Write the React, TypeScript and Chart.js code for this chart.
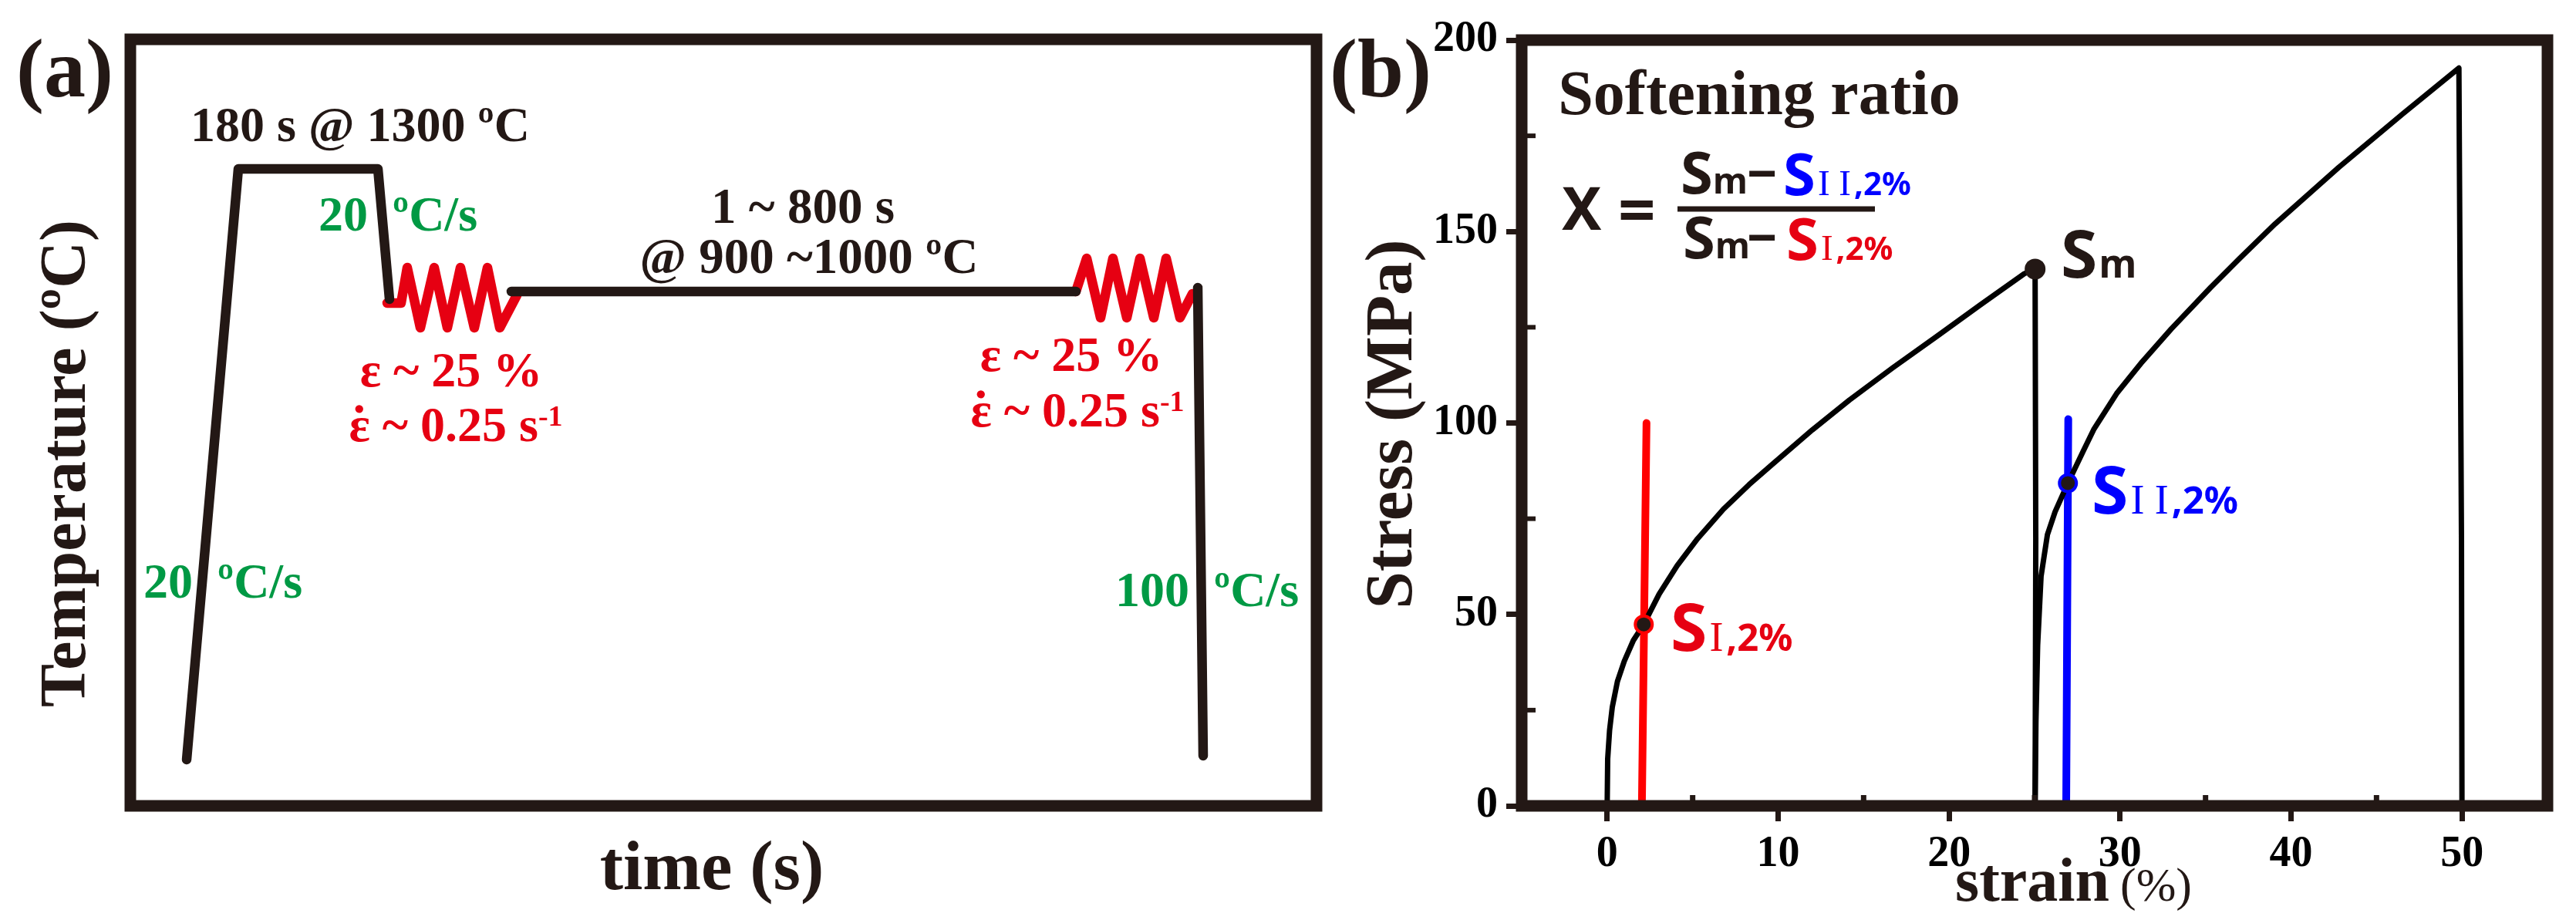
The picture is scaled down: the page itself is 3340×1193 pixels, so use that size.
import { useEffect, useRef } from 'react';
import { Chart, registerables } from 'chart.js';

Chart.register(...registerables);

const INK = '#231815';
const RED = '#e60012';
const GREEN = '#009944';
const BLUE = '#0000ff';

// panel (a): schedule, time and temperature in arbitrary units
const rampTime = [73, 140, 321, 336];
const rampTemp = [60, 826, 826, 657];
const holdTime = [494, 1226];
const holdTemp = [667, 667];
const quenchTime = [1384, 1391];
const quenchTemp = [672, 65];
const pass1Time = [333, 351, 359, 376, 394, 411, 428, 446, 463, 479, 501];
const pass1Temp = [652, 652, 698, 620, 698, 620, 698, 620, 698, 620, 662];
const pass2Time = [1226, 1240, 1258, 1274, 1292, 1309, 1327, 1343, 1361, 1377];
const pass2Temp = [667, 710, 633, 710, 633, 710, 633, 710, 633, 664];

// panel (b): stress-strain
const firstStrain = [0, 0.03, 0.14, 0.3, 0.6, 1, 1.53, 2.14, 3.04, 4.09, 5.29, 6.8, 8.3, 9.66, 12, 14.17, 16.7, 19.3, 21.84, 24.4, 25.03, 25.07, 25.03];
const firstStress = [0, 12.3, 19.7, 25.8, 32.5, 37.8, 43.2, 47.4, 55.3, 62.7, 69.8, 77.5, 83.9, 89.2, 98.2, 106, 114.4, 122.7, 130.9, 139, 140.2, 70, 0];
const secondStrain = [25.03, 25.08, 25.18, 25.38, 25.75, 26.2, 26.95, 27.84, 28.46, 29.8, 31.3, 33, 35.3, 37, 39.07, 42.8, 46.55, 49.82, 49.97, 50];
const secondStress = [0, 22, 42, 60, 70.8, 76.8, 84.3, 92.6, 98.3, 107.7, 116, 124.6, 135.4, 143, 152, 166.8, 180.8, 192.7, 70, 0];
const redStrain = [2.03, 2.3];
const redStress = [0, 100];
const blueStrain = [26.85, 26.97];
const blueStress = [0, 101];
const markStrain = [2.14, 25.03, 26.95];
const markStress = [47.4, 140.2, 84.3];

const strainTicks = [0, 10, 20, 30, 40, 50];
const strainMinor = [5, 15, 25, 35, 45];
const stressMinor = [25, 75, 125, 175];

const pts = (xs: number[], ys: number[]) => xs.map((x, i) => ({ x, y: ys[i] }));

const line = (xs: number[], ys: number[], color: string, width: number) => ({
  data: pts(xs, ys),
  showLine: true,
  borderColor: color,
  borderWidth: width,
  borderCapStyle: 'round',
  borderJoinStyle: 'round',
  pointRadius: 0,
  tension: 0,
});

const TIMES = '"Liberation Serif"';
const SANS = '"Noto Sans"';
const tb = (size: number) => `bold ${size}px ${TIMES}`;
const tr = (size: number) => `${size}px ${TIMES}`;
const sb = (size: number) => `bold ${size}px ${SANS}`;

type Run = { t: string; font: string; color?: string; dx?: number; dy?: number };
type Label = { x: number; y: number; rot?: number; center?: boolean; runs: Run[] };

const txt = (x: number, y: number, t: string, font: string, color = INK, center = true): Label => ({
  x, y, center, runs: [{ t, font, color }],
});

const rate = (x: number, y: number): Label => ({
  x, y, center: true,
  runs: [
    { t: 'ε', font: tb(64), color: RED },
    { t: '.', font: tb(64), color: RED, dx: -22, dy: -37 },
    { t: ' ~ 0.25 s', font: tb(64), color: RED, dx: 6 },
    { t: '-1', font: tb(38), color: RED, dy: -20 },
  ],
});

const panelALabels: Label[] = [
  txt(84, 125, '(a)', tb(108)),
  txt(467, 183, '180 s @ 1300 ºC', tb(64)),
  txt(413, 299, '20  ºC/s', tb(64), GREEN, false),
  txt(186, 775, '20  ºC/s', tb(64), GREEN, false),
  txt(1446, 786, '100  ºC/s', tb(64), GREEN, false),
  txt(1041, 289, '1 ~ 800 s', tb(65)),
  txt(1049, 354, '@ 900 ~1000 ºC', tb(65)),
  txt(585, 501, 'ε ~ 25 %', tb(64), RED),
  rate(591, 572),
  txt(1389, 481, 'ε ~ 25 %', tb(64), RED),
  rate(1397, 553),
  { x: 110, y: 601, rot: -90, center: true, runs: [{ t: 'Temperature (ºC)', font: tb(84), color: INK }] },
  txt(923, 1153, 'time (s)', tb(91)),
];

const sub = (x: number, y: number, roman: string, head: number, small: number, color: string): Label => ({
  x, y,
  runs: [
    { t: 'S', font: sb(head), color },
    { t: roman, font: tr(small), color, dx: 3 },
    { t: ',2%', font: sb(small - 5), color, dx: 4 },
  ],
});

const panelBLabels: Label[] = [
  txt(1790, 125, '(b)', tb(108)),
  txt(2281, 148, 'Softening ratio', tb(82)),
  txt(2025, 298, 'X', sb(77), INK, false),
  txt(2098, 302, '=', sb(85), INK, false),
  { x: 2179, y: 251, runs: [{ t: 'S', font: sb(76), color: INK }, { t: 'm', font: sb(46), color: INK }] },
  txt(2265, 249, '−', sb(68), INK, false),
  sub(2312, 253, 'I I', 76, 47, BLUE),
  { x: 2182, y: 335, runs: [{ t: 'S', font: sb(76), color: INK }, { t: 'm', font: sb(46), color: INK }] },
  txt(2265, 332, '−', sb(68), INK, false),
  sub(2316, 337, 'I', 76, 47, RED),
  { x: 2672, y: 360, runs: [{ t: 'S', font: sb(86), color: INK }, { t: 'm', font: sb(50), color: INK, dx: 2 }] },
  sub(2712, 666, 'I I', 86, 54, BLUE),
  sub(2166, 844, 'I', 86, 54, RED),
  { x: 1830, y: 550, rot: -90, center: true, runs: [{ t: 'Stress (MPa)', font: tb(87), color: INK }] },
  {
    x: 2535, y: 1168,
    runs: [{ t: 'strain', font: tb(80), color: INK }, { t: '(%)', font: tr(62), color: INK, dx: 14 }],
  },
];

const drawLabels = (ctx: CanvasRenderingContext2D, labels: Label[]) => {
  labels.forEach((l) => {
    ctx.save();
    ctx.translate(l.x, l.y);
    if (l.rot) ctx.rotate((l.rot * Math.PI) / 180);
    ctx.textBaseline = 'alphabetic';
    ctx.textAlign = 'left';
    const width = l.runs.reduce((w, r) => {
      ctx.font = r.font;
      return w + ctx.measureText(r.t).width + (r.dx || 0);
    }, 0);
    let pen = l.center ? -width / 2 : 0;
    l.runs.forEach((r) => {
      ctx.font = r.font;
      ctx.fillStyle = r.color || INK;
      pen += r.dx || 0;
      ctx.fillText(r.t, pen, r.dy || 0);
      pen += ctx.measureText(r.t).width;
    });
    ctx.restore();
  });
};

// box around the plot, inward minor ticks and the formula labels
const framePlugin = {
  id: 'frame',
  afterDatasetsDraw(chart: any, _args: any, opts: any) {
    const { ctx, chartArea: a, scales } = chart;
    ctx.save();
    ctx.strokeStyle = INK;
    (opts.minorX || []).forEach((v: number) => {
      const px = scales.x.getPixelForValue(v);
      ctx.lineWidth = 7;
      ctx.beginPath();
      ctx.moveTo(px, a.bottom);
      ctx.lineTo(px, a.bottom - 14);
      ctx.stroke();
    });
    (opts.minorY || []).forEach((v: number) => {
      const py = scales.y.getPixelForValue(v);
      ctx.lineWidth = 6;
      ctx.beginPath();
      ctx.moveTo(a.left, py);
      ctx.lineTo(a.left + 18, py);
      ctx.stroke();
    });
    ctx.lineWidth = 15;
    ctx.lineJoin = 'miter';
    ctx.strokeRect(a.left, a.top, a.right - a.left, a.bottom - a.top);
    if (opts.fractions) {
      ctx.lineWidth = 7;
      ctx.beginPath();
      ctx.moveTo(2175, 271);
      ctx.lineTo(2431, 271);
      ctx.stroke();
    }
    ctx.restore();
    drawLabels(ctx, opts.labels || []);
  },
};

const fontTicks = { family: TIMES, size: 56, weight: 'bold' as const };

const PanelA = () => {
  const ref = useRef<HTMLCanvasElement | null>(null);
  useEffect(() => {
    if (!ref.current) return;
    const chart = new Chart(ref.current, {
      type: 'scatter',
      plugins: [framePlugin],
      data: {
        datasets: [
          line(rampTime, rampTemp, INK, 12.5),
          line(holdTime, holdTemp, INK, 12.5),
          line(quenchTime, quenchTemp, INK, 12.5),
          line(pass1Time, pass1Temp, RED, 12.5),
          line(pass2Time, pass2Temp, RED, 12.5),
        ] as any,
      },
      options: {
        animation: false,
        responsive: false,
        devicePixelRatio: 1,
        layout: { padding: { left: 169, right: 1633, top: 51, bottom: 148 } },
        scales: {
          x: { type: 'linear', display: false, min: 0, max: 1538 },
          y: { type: 'linear', display: false, min: 0, max: 994 },
        },
        plugins: {
          legend: { display: false },
          tooltip: { enabled: false },
          frame: { labels: panelALabels },
        } as any,
      },
    });
    return () => chart.destroy();
  }, []);
  return <canvas ref={ref} width={3340} height={1193} style={{ position: 'absolute', left: 0, top: 0 }} />;
};

const PanelB = () => {
  const ref = useRef<HTMLCanvasElement | null>(null);
  useEffect(() => {
    if (!ref.current) return;
    const chart = new Chart(ref.current, {
      type: 'scatter',
      plugins: [framePlugin],
      data: {
        datasets: [
          {
            data: pts(markStrain, markStress),
            pointRadius: [11, 13.5, 11],
            pointBackgroundColor: INK,
            pointBorderColor: ['#ff0000', INK, BLUE],
            pointBorderWidth: [4, 0, 4],
            showLine: false,
          },
          line(firstStrain, firstStress, '#000000', 7),
          line(secondStrain, secondStress, '#000000', 7),
          line(redStrain, redStress, '#ff0000', 10),
          line(blueStrain, blueStress, BLUE, 10),
        ] as any,
      },
      options: {
        animation: false,
        responsive: false,
        devicePixelRatio: 1,
        layout: { padding: { left: 1773, right: 37, top: 52, bottom: 48 } },
        scales: {
          x: {
            type: 'linear',
            min: -5,
            max: 55,
            afterBuildTicks: (s: any) => {
              s.ticks = strainTicks.map((value) => ({ value }));
            },
            afterFit: (s: any) => {
              s.height = 100;
              s.paddingLeft = 0;
              s.paddingRight = 0;
            },
            border: { display: false },
            grid: { drawOnChartArea: false, tickLength: 20, tickWidth: 7, tickColor: INK },
            ticks: { color: '#000000', font: fontTicks, padding: 10, maxRotation: 0, autoSkip: false },
          },
          y: {
            type: 'linear',
            min: 0,
            max: 200,
            afterFit: (s: any) => {
              s.width = 200;
              s.paddingTop = 0;
              s.paddingBottom = 0;
            },
            border: { display: false },
            grid: { drawOnChartArea: false, tickLength: 20, tickWidth: 7, tickColor: INK },
            ticks: { color: '#000000', font: fontTicks, stepSize: 50, padding: 11 },
          },
        },
        plugins: {
          legend: { display: false },
          tooltip: { enabled: false },
          frame: { labels: panelBLabels, minorX: strainMinor, minorY: stressMinor, fractions: true },
        } as any,
      },
    });
    return () => chart.destroy();
  }, []);
  return <canvas ref={ref} width={3340} height={1193} style={{ position: 'absolute', left: 0, top: 0 }} />;
};

export default function App() {
  return (
    <div style={{ position: 'absolute', left: 0, top: 0, width: 3340, height: 1193, background: '#ffffff', overflow: 'hidden' }}>
      <PanelA />
      <PanelB />
    </div>
  );
}
